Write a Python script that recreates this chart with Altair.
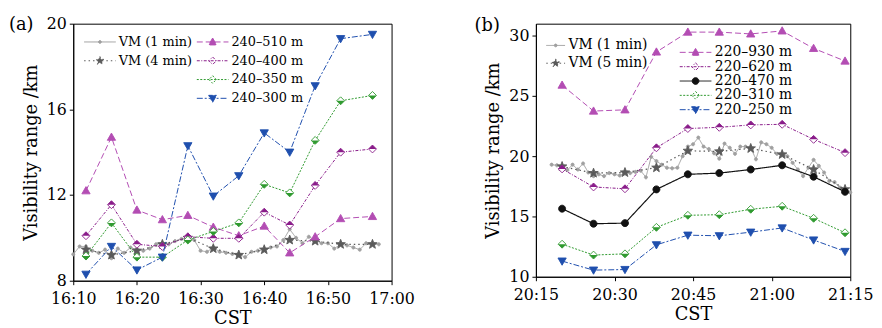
import math
import altair as alt
import pandas as pd

FONT = "DejaVu Serif"

# ---------------- panel (a) data ----------------
a_times = ["16:12", "16:16", "16:20", "16:24", "16:28", "16:32",
           "16:36", "16:40", "16:44", "16:48", "16:52", "16:57"]
a_510 = [12.2, 14.7, 11.3, 10.85, 11.05, 10.5, 10.1, 10.55, 9.3, 10.05, 10.9, 11.0]
a_400 = [10.1, 11.55, 9.7, 9.6, 10.05, 9.98, 9.98, 11.2, 10.6, 12.45, 14.0, 14.15]
a_350 = [9.15, 10.7, 9.1, 9.1, 9.9, 10.3, 10.7, 12.5, 12.1, 14.55, 16.4, 16.65]
a_300 = [8.3, 9.6, 8.5, 9.1, 14.3, 11.95, 12.9, 14.9, 14.0, 17.1, 19.3, 19.5]
a_vm4 = [9.45, 9.2, 9.4, 9.7, 10.0, 9.5, 9.2, 9.45, 9.9, 9.85, 9.7, 9.7]
a_vm1_times = [f"16:{m:02d}" for m in range(10, 59)]
a_vm1 = [9.23, 9.6, 9.6, 9.4, 9.3, 9.45, 9.05, 9.5, 9.3, 9.55,
         9.45, 9.4, 9.5, 9.7, 9.75, 9.7, 9.85, 9.95, 10.0, 9.9,
         9.4, 9.35, 9.55, 9.35, 9.3, 9.25, 9.25, 9.1, 9.35, 9.4,
         9.45, 9.55, 9.6, 9.9, 10.4, 10.0, 9.75, 10.05, 9.9, 9.75,
         9.75, 9.5, 9.7, 9.65, 9.55, 9.45, 9.75, 9.7, 9.7]

# ---------------- panel (b) data ----------------
b_times = ["20:20", "20:26", "20:32", "20:38", "20:44",
           "20:50", "20:56", "21:02", "21:08", "21:14"]
b_930 = [25.9, 23.75, 23.85, 28.65, 30.3, 30.3, 30.15, 30.4, 28.95, 27.9]
b_620 = [18.95, 17.45, 17.3, 20.7, 22.3, 22.4, 22.6, 22.65, 21.4, 20.3]
b_470 = [15.65, 14.4, 14.45, 17.25, 18.5, 18.6, 18.9, 19.25, 18.3, 17.05]
b_310 = [12.7, 11.8, 11.9, 14.1, 15.1, 15.15, 15.6, 15.85, 14.85, 13.65]
b_250 = [11.3, 10.55, 10.6, 12.65, 13.45, 13.4, 13.7, 14.05, 13.05, 12.1]
b_vm5 = [19.15, 18.6, 18.65, 19.05, 20.45, 20.4, 20.65, 20.15, 18.9, 17.25]
b_vm1_times = [f"20:{m:02d}" for m in range(18, 60)] + [f"21:{m:02d}" for m in range(0, 16)]
b_vm1 = [19.3, 19.25, 19.05, 18.85, 19.3, 18.9, 19.4, 18.65, 18.35, 18.5,
         18.35, 18.6, 18.5, 18.4, 18.65, 18.6, 18.7, 18.8, 18.25, 19.95,
         19.6, 19.3, 19.05, 19.0, 19.05, 20.0, 20.8, 21.0, 21.55, 20.8,
         20.6, 20.25, 19.8, 21.05, 20.7, 20.2, 20.8, 20.8, 20.7, 19.75,
         21.15, 21.0, 20.7, 20.2, 20.15, 20.0, 19.45, 18.9, 18.35, 19.05,
         19.7, 19.2, 18.65, 17.95, 17.85, 17.4, 17.15, 17.0]

a_x_ticks = ["16:10", "16:20", "16:30", "16:40", "16:50", "17:00"]
a_y_ticks = [8, 12, 16, 20]
b_x_ticks = ["20:15", "20:30", "20:45", "21:00", "21:15"]
b_y_ticks = [10, 15, 20, 25, 30]


def to_min(s):
    h, m = s.split(":")
    return int(h) * 60 + int(m)


def frame(times, values):
    return pd.DataFrame({"t": [to_min(s) for s in times], "v": values})


# ---------------- marker shapes (SVG paths, unit scale) ----------------
def f(v):
    return f"{v:.3f}"


def tri_up(m):
    return f"M0,{f(-m)}L{f(m)},{f(0.75*m)}L{f(-m)},{f(0.75*m)}Z"


def tri_down(m):
    return f"M0,{f(m)}L{f(m)},{f(-0.75*m)}L{f(-m)},{f(-0.75*m)}Z"


def diamond(m):
    return f"M0,{f(-m)}L{f(m)},0L0,{f(m)}L{f(-m)},0Z"


def top_half(m):
    return f"M{f(-m)},0L0,{f(-m)}L{f(m)},0Z"


def bottom_half(m):
    return f"M{f(-m)},0L0,{f(m)}L{f(m)},0Z"


def circle(m):
    return f"M{f(-m)},0A{f(m)},{f(m)} 0 1 0 {f(m)},0A{f(m)},{f(m)} 0 1 0 {f(-m)},0Z"


def star(m):
    pts = []
    for i in range(10):
        r = m if i % 2 == 0 else m * 0.42
        a = -math.pi / 2 + i * math.pi / 5
        pts.append(f"{f(r*math.cos(a))},{f(r*math.sin(a))}")
    return "M" + "L".join(pts) + "Z"


def leg_path(marker, m, half_len):
    return f"M{f(-half_len)},0H{f(half_len)}" + marker(m)


GRAY = "#a0a0a0"
DGRAY = "#5a5a5a"
MAG = "#b34db3"
PUR = "#8a1c8a"
GRN = "#2f9a2f"
BLU = "#1f4fae"
BLK = "#111111"

STYLE = {
    "vm1": dict(color=GRAY, dash=[1, 0], marker=circle, size=10, fill=GRAY, half=None, lm=0.7, lfill=GRAY, width=1.0),
    "vm4": dict(color=DGRAY, dash=[1.5, 3], marker=star, size=100, fill=DGRAY, half=None, lm=2.2, lfill=DGRAY, width=1.2),
    "mag": dict(color=MAG, dash=[6, 3], marker=tri_up, size=70, fill=MAG, half=None, lm=2.0, lfill=MAG, width=1),
    "pur": dict(color=PUR, dash=[3, 1.5, 1, 1.5], marker=diamond, size=64, fill="white", half=top_half, lm=1.9, lfill="white", width=1),
    "grn": dict(color=GRN, dash=[2, 1.5], marker=diamond, size=64, fill="white", half=bottom_half, lm=1.9, lfill="white", width=1),
    "blu": dict(color=BLU, dash=[6, 2, 2, 2], marker=tri_down, size=70, fill=BLU, half=None, lm=2.0, lfill=BLU, width=1),
    "blk": dict(color=BLK, dash=[1, 0], marker=circle, size=50, fill=BLK, half=None, lm=1.7, lfill=BLK, width=1.2),
}


def series_layers(df, st, xenc, yenc):
    base = alt.Chart(df).encode(x=xenc, y=yenc)
    out = [base.mark_line(color=st["color"], strokeWidth=st["width"], strokeDash=st["dash"]),
           base.mark_point(shape=st["marker"](1), size=st["size"], filled=True, color=st["color"],
                           fill=st["fill"], stroke=st["color"], strokeWidth=0.9, opacity=1)]
    if st["half"] is not None:
        out.append(base.mark_point(shape=st["half"](1), size=st["size"], filled=True,
                                   color=st["color"], strokeWidth=0, opacity=1))
    return out


def legend_layer(field, names, keys, lx, ly, fs, rowpad, half_len=8.0):
    df = pd.DataFrame({field: names})
    sts = [STYLE[k] for k in keys]
    line_px = 2 * half_len * 2  # symbolSize 16 -> 2 px per path unit
    sym_off = line_px / 2 - 5.5
    lab_off = line_px + 2 - 11 - sym_off

    def sc(rng):
        return alt.Scale(domain=names, range=rng)

    leg = alt.Legend(title=None, orient="none", legendX=lx, legendY=ly,
                     labelFont=FONT, labelFontSize=fs, labelColor="black",
                     symbolSize=16, symbolStrokeWidth=1, symbolOpacity=1,
                     symbolOffset=sym_off, labelOffset=lab_off, rowPadding=rowpad,
                     padding=0, labelLimit=400)
    return alt.Chart(df).mark_point(opacity=0, filled=True).encode(
        shape=alt.Shape(f"{field}:N", scale=sc([leg_path(s["marker"], s["lm"], half_len) for s in sts]), legend=leg),
        fill=alt.Fill(f"{field}:N", scale=sc([s["lfill"] for s in sts]), legend=leg),
        stroke=alt.Stroke(f"{field}:N", scale=sc([s["color"] for s in sts]), legend=leg),
        strokeDash=alt.StrokeDash(f"{field}:N", scale=sc([s["dash"] for s in sts]), legend=leg),
    )


LABEL_EXPR = ("floor(datum.value/60) + ':' + (datum.value % 60 < 10 ? '0' : '') + (datum.value % 60)")


def make_panel(title, title_dx, title_dy, series, xticks, yticks, ydomain, w, h, legends):
    xt = [to_min(s) for s in xticks]
    xenc = alt.X("t:Q", scale=alt.Scale(domain=[xt[0], xt[-1]], nice=False, zero=False),
                 axis=alt.Axis(values=xt, labelExpr=LABEL_EXPR, title="CST"))
    yenc = alt.Y("v:Q", scale=alt.Scale(domain=ydomain, nice=False, zero=False),
                 axis=alt.Axis(values=yticks, title="Visibility range /km"))
    layers = []
    for df, key in series:
        layers += series_layers(df, STYLE[key], xenc, yenc)
    layers += legends
    return alt.layer(*layers).properties(
        width=w, height=h,
        title=alt.TitleParams(title, anchor="start", frame="group", fontSize=18, font=FONT,
                              fontWeight="normal", color="black", dx=title_dx, dy=title_dy, offset=0)
    ).resolve_scale(shape="independent", fill="independent", stroke="independent",
                    strokeDash="independent")


panel_a = make_panel(
    "(a)", -65, 18,
    [(frame(a_vm1_times, a_vm1), "vm1"), (frame(a_times, a_vm4), "vm4"),
     (frame(a_times, a_510), "mag"), (frame(a_times, a_400), "pur"),
     (frame(a_times, a_350), "grn"), (frame(a_times, a_300), "blu")],
    a_x_ticks, a_y_ticks, [8, 20], 322, 260,
    [legend_layer("vma", ["VM (1 min)", "VM (4 min)"], ["vm1", "vm4"], 10, 12, 13, 5),
     legend_layer("lida", ["240–510 m", "240–400 m", "240–350 m", "240–300 m"],
                  ["mag", "pur", "grn", "blu"], 124, 12, 13, 5)],
)

panel_b = make_panel(
    "(b)", -62, 11,
    [(frame(b_vm1_times, b_vm1), "vm1"), (frame(b_times, b_vm5), "vm4"),
     (frame(b_times, b_930), "mag"), (frame(b_times, b_620), "pur"),
     (frame(b_times, b_470), "blk"), (frame(b_times, b_310), "grn"),
     (frame(b_times, b_250), "blu")],
    b_x_ticks, b_y_ticks, [10, 31], 318, 256,
    [legend_layer("vmb", ["VM (1 min)", "VM (5 min)"], ["vm1", "vm4"], 9, 15, 14, 4, half_len=4.75),
     legend_layer("lidb", ["220–930 m", "220–620 m", "220–470 m", "220–310 m", "220–250 m"],
                  ["mag", "pur", "blk", "grn", "blu"], 144, 22, 14, 0.5)],
)

chart = alt.hconcat(panel_a, panel_b, spacing=59).resolve_scale(
    x="independent", y="independent", shape="independent", fill="independent",
    stroke="independent", strokeDash="independent"
).properties(padding={"left": 0, "top": 5, "right": 0, "bottom": 0}).configure_view(
    stroke="black", strokeWidth=1
).configure_axis(
    labelFont=FONT, titleFont=FONT, labelFontSize=16, titleFontSize=18,
    labelColor="black", titleColor="black", titleFontWeight="normal",
    domainColor="black", tickColor="black", tickSize=4, labelPadding=3,
    grid=False, labelFlush=False, labelOverlap=False
).configure_axisY(titlePadding=6).configure_axisX(titlePadding=3, labelPadding=6)

chart.save("out.html", embed_options={"renderer": "svg", "actions": False})
